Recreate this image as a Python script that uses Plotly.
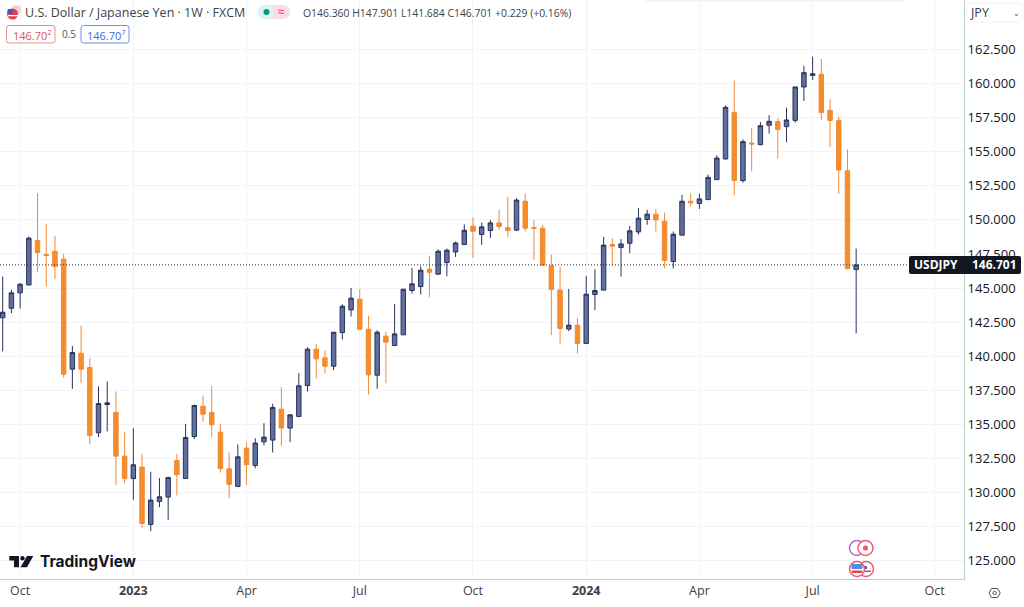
import pandas as pd
import plotly.graph_objects as go

# Weekly USD/JPY candles
opens = [142.82,143.52,144.65,145.23,148.49,147.46,147.70,147.12,139.05,140.22,
         139.17,134.38,136.46,135.87,132.67,131.03,131.87,127.66,129.35,129.67,
         132.35,131.03,134.11,136.34,135.87,134.43,131.74,130.45,133.26,131.99,
         133.72,133.85,136.12,134.73,135.58,137.85,140.52,139.88,139.27,141.74,
         143.40,144.18,141.98,138.61,141.47,140.79,141.57,144.82,145.11,146.38,
         146.02,146.87,147.65,148.19,149.54,148.93,149.22,149.78,149.44,149.25,
         151.37,149.44,149.39,146.63,144.85,141.99,142.28,140.94,144.53,144.85,
         148.20,147.98,148.29,149.12,150.03,150.42,149.91,146.95,148.88,151.37,
         151.20,151.49,152.95,154.47,157.87,152.88,155.64,155.52,156.94,157.21,
         156.84,157.30,159.75,160.60,160.68,158.04,157.30,153.61,146.36]
highs = [145.85,144.87,145.36,148.78,151.96,149.71,148.83,147.51,140.76,142.23,
         139.86,137.78,138.15,137.41,134.43,134.73,132.84,131.52,131.06,131.13,
         132.84,135.04,136.44,137.10,137.83,135.04,132.94,133.53,133.70,133.99,
         135.09,136.51,137.73,135.73,138.76,140.66,140.91,140.42,141.76,143.82,
         145.01,144.92,142.96,141.91,141.79,143.84,144.94,146.48,146.60,147.36,
         147.85,147.90,148.41,149.68,150.17,149.80,150.00,150.76,151.71,151.59,
         151.91,150.00,149.64,147.46,146.56,144.94,142.79,145.90,146.39,148.76,
         148.66,148.59,149.56,150.88,150.74,150.79,150.54,149.15,151.84,151.96,
         151.93,153.32,154.74,158.40,160.21,155.91,156.74,157.18,157.69,157.45,
         158.23,159.77,161.31,161.97,161.80,158.84,157.57,155.18,147.90]
lows = [140.35,143.16,143.50,145.20,146.19,145.11,145.65,138.44,137.61,138.02,
        133.53,134.07,134.48,130.57,130.69,129.47,127.42,127.17,128.93,128.00,
        129.79,131.03,133.92,135.21,134.07,131.47,129.59,130.40,130.57,131.79,
        133.46,132.94,133.43,133.70,135.56,137.41,138.37,138.73,138.98,141.23,
        142.91,141.98,137.19,137.61,138.02,140.74,141.57,144.60,144.53,144.35,
        146.00,145.87,147.29,148.17,147.21,148.17,148.68,149.27,148.73,149.20,
        149.15,147.07,146.66,141.55,140.91,141.84,140.20,140.94,143.38,144.82,
        146.63,145.85,147.56,148.93,149.64,149.15,146.44,146.44,148.88,150.98,
        150.81,151.46,152.95,154.44,151.80,152.73,153.56,155.47,156.33,154.49,
        155.69,157.13,158.72,160.26,157.33,155.35,151.90,146.38,141.68]
closes = [143.23,144.65,145.28,148.66,147.61,147.39,146.58,138.68,140.27,139.05,
          134.19,136.53,136.58,132.67,131.03,132.04,127.74,129.45,129.69,131.11,
          131.30,134.04,136.39,135.75,134.97,131.77,130.60,132.62,132.04,133.63,
          134.07,136.24,134.73,135.70,137.83,140.52,139.81,139.27,141.76,143.67,
          144.26,141.98,138.64,141.76,141.03,141.64,144.92,145.31,146.31,146.16,
          147.70,147.78,148.31,149.24,149.17,149.49,149.78,149.51,149.22,151.45,
          149.39,149.37,146.68,144.90,142.04,142.28,140.94,144.55,144.82,148.15,
          148.07,148.24,149.20,150.13,150.42,150.00,147.02,148.95,151.37,151.25,
          151.54,153.12,154.54,158.26,152.90,155.74,155.57,156.91,157.23,156.64,
          157.33,159.75,160.80,160.72,157.87,157.30,153.66,146.43,146.70]
first_week = "2022-09-19"
tick_dates = ["2022-10-03","2023-01-02","2023-04-03","2023-07-03","2023-10-02",
              "2024-01-01","2024-04-01","2024-07-01","2024-10-07"]
tick_labels = ["Oct","<b>2023</b>","Apr","Jul","Oct","<b>2024</b>","Apr","Jul","Oct"]
price_ticks = [125.0,127.5,130.0,132.5,135.0,137.5,140.0,142.5,145.0,147.5,150.0,
               152.5,155.0,157.5,160.0,162.5]
last_price = 146.701

W, H = 1024, 607
R, B = 60, 28
PW, PH = W - R, H - B
FONT = "Open Sans"
TXT = "#131722"
GRID = "#f0f3fa"
AXIS = "#b7cfcf"
UP_FILL, UP_LINE = "#5f6fa2", "#2a3358"
DN_FILL, DN_LINE = "#f68c2a", "#f08a35"

weeks = pd.date_range(first_week, periods=len(opens), freq="7D")

fig = go.Figure(go.Candlestick(
    x=weeks, open=opens, high=highs, low=lows, close=closes,
    increasing=dict(fillcolor=UP_FILL, line=dict(color=UP_LINE, width=1)),
    decreasing=dict(fillcolor=DN_FILL, line=dict(color=DN_LINE, width=1)),
    whiskerwidth=0, hoverinfo="skip",
))


def px(x):
    return x / PW


def py(y):
    return 1 - y / PH


anns = []
shapes = []


def text(x, y, s, size=12, color=TXT, anchor="left", family=FONT):
    anns.append(dict(text=s, x=px(x), y=py(y), xref="paper", yref="paper",
                     xanchor=anchor, yanchor="middle", showarrow=False,
                     borderpad=0, borderwidth=0,
                     font=dict(size=size, color=color, family=family)))


def box(x0, y0, x1, y1, fill="rgba(0,0,0,0)", line=None, lw=1, r=2.5, rl=None, rr=None):
    rl = r if rl is None else rl
    rr = r if rr is None else rr
    X = lambda a: f"{px(a):.5f}"
    Y = lambda b: f"{py(b):.5f}"
    d = (f"M {X(x0+rl)} {Y(y0)} L {X(x1-rr)} {Y(y0)} Q {X(x1)} {Y(y0)} {X(x1)} {Y(y0+rr)} "
         f"L {X(x1)} {Y(y1-rr)} Q {X(x1)} {Y(y1)} {X(x1-rr)} {Y(y1)} "
         f"L {X(x0+rl)} {Y(y1)} Q {X(x0)} {Y(y1)} {X(x0)} {Y(y1-rl)} "
         f"L {X(x0)} {Y(y0+rl)} Q {X(x0)} {Y(y0)} {X(x0+rl)} {Y(y0)} Z")
    shapes.append(dict(type="path", xref="paper", yref="paper", path=d, fillcolor=fill,
                       line=dict(color=line or fill, width=lw if line else 0)))


def circle(cx, cy, r, fill="rgba(0,0,0,0)", line=None, lw=1):
    shapes.append(dict(type="circle", xref="paper", yref="paper",
                       x0=px(cx - r), x1=px(cx + r), y0=py(cy + r), y1=py(cy - r),
                       fillcolor=fill, line=dict(color=line or fill, width=lw if line else 0)))


def path(points, fill="rgba(0,0,0,0)", line=None, lw=1):
    d = "M " + " L ".join(f"{px(a):.5f} {py(b):.5f}" for a, b in points) + " Z"
    shapes.append(dict(type="path", xref="paper", yref="paper", path=d,
                       fillcolor=fill, line=dict(color=line or fill, width=lw if line else 0)))


# faint strip at the top edge
box(645, 0, 905, 1.5, fill="#f3f3f3", r=0)

# last price line
shapes.append(dict(type="line", xref="paper", x0=0, x1=1, yref="y", y0=last_price, y1=last_price,
                   line=dict(color="#2a2e39", width=1, dash="1px,2px")))
# last price tag
box(909, 256, 1021, 274, fill="#131722", r=2)
text(914, 265, "<b>USDJPY</b>", 12, "#ffffff")
text(1017, 265, "<b>146.701</b>", 12, "#ffffff", "right")

# header
circle(16, 10, 5, fill="#f7cdd4")
circle(12.5, 14, 5.5, fill="#e5404f")
box(7.5, 9, 13, 14, fill="#3f5fb8", r=1)
box(8, 15, 18, 16.2, fill="#ffffff", r=0)
text(25, 12.5, "U.S. Dollar / Japanese Yen · 1W · FXCM", 12.5, "#3b3f4a")
box(258, 5, 273, 19, fill="#dff2ec", rl=7, rr=0)
box(273, 5, 290, 19, fill="#fbdde6", rl=0, rr=7)
circle(266.5, 12, 3, fill="#089981")
text(281, 12, "≈", 12, "#e0357a", "center")
text(303, 12.5, "O146.360 H147.901 L141.684 C146.701 +0.229 (+0.16%)", 10.4, "#3b3f4a")
box(6.5, 25.5, 55, 43, fill="#ffffff", line="#ef8a92")
text(13, 35, "146.70<sup>2</sup>", 11, "#e0505c")
text(62, 34.5, "0.5", 10, "#50535e")
box(81, 25.5, 129, 43, fill="#ffffff", line="#6f8fe8")
text(87, 35, "146.70<sup>7</sup>", 11, "#3f6be0")

# currency button
box(967, 3, 1022, 22, fill="#ffffff", line="#f0f3fa")
text(970, 12.5, "JPY", 12.5, "#3b3f4a")
text(1016, 13, "⌄", 8, "#50535e", "center", "DejaVu Sans")

# TradingView logo
path([(9.3, 556), (19, 556), (19, 567.3), (14, 567.3), (14, 560.5), (9.3, 560.5)], fill="#131722")
circle(22.5, 558.2, 2.2, fill="#131722")
path([(27, 556), (33.3, 556), (27, 567.3), (20.5, 567.3)], fill="#131722")
text(39.5, 561.5, "<b>TradingView</b>", 15.5, "#131722", family="Inter")

# event icons
circle(857, 548, 7.5, fill="#ffffff", line="#b06cd8", lw=1.5)
circle(865.5, 548, 7.5, fill="#ffffff", line="#f05a6e", lw=1.5)
circle(865.5, 548, 2.6, fill="#f05a6e")
circle(866, 569, 7.5, fill="#ffffff", line="#f05a6e", lw=1.5)
box(861, 566, 867, 569, fill="#3f5fb8", r=0)
box(860, 570.5, 871, 572, fill="#e5404f", r=0)
circle(857, 569, 7.5, fill="#ffffff", line="#f05a6e", lw=1.5)
box(851.5, 564, 862.5, 569, fill="#4a8fe0", r=1)
box(851.5, 570.5, 862.5, 573, fill="#e5404f", r=1)

# settings icon
path([(989, 593), (991.6, 588.5), (997.6, 588.5), (1000.2, 593), (997.6, 597.5), (991.6, 597.5)],
     fill="#ffffff", line="#50535e", lw=1)
circle(994.6, 593, 1.7, fill="#ffffff", line="#50535e", lw=1)

fig.update_layout(
    width=W, height=H, margin=dict(l=0, r=R, t=0, b=B, pad=0),
    autosize=False, paper_bgcolor="#ffffff", plot_bgcolor="#ffffff",
    showlegend=False, boxgap=0.27, annotations=anns, shapes=shapes,
    font=dict(family=FONT, color=TXT, size=12.5),
    xaxis=dict(
        type="date", rangeslider=dict(visible=False),
        range=["2022-09-16 20:00", "2024-10-30 16:00"],
        tickmode="array", tickvals=tick_dates, ticktext=tick_labels,
        showgrid=True, gridcolor=GRID, gridwidth=1, zeroline=False,
        showline=True, linecolor=AXIS, linewidth=1, ticks="", ticklen=0,
        tickfont=dict(size=12.5, color="#3b3f4a", family=FONT), mirror=False,
    ),
    yaxis=dict(
        side="right", range=[123.66, 166.13],
        tickmode="array", tickvals=price_ticks, tickformat=".3f",
        showgrid=True, gridcolor=GRID, gridwidth=1, zeroline=False,
        showline=True, linecolor=AXIS, linewidth=1, ticks="",
        tickfont=dict(size=13, color=TXT, family=FONT),
    ),
)

fig.write_html("out.html", config=dict(displayModeBar=False),
               post_script="document.body.style.margin='0';document.documentElement.style.overflow='hidden';")
